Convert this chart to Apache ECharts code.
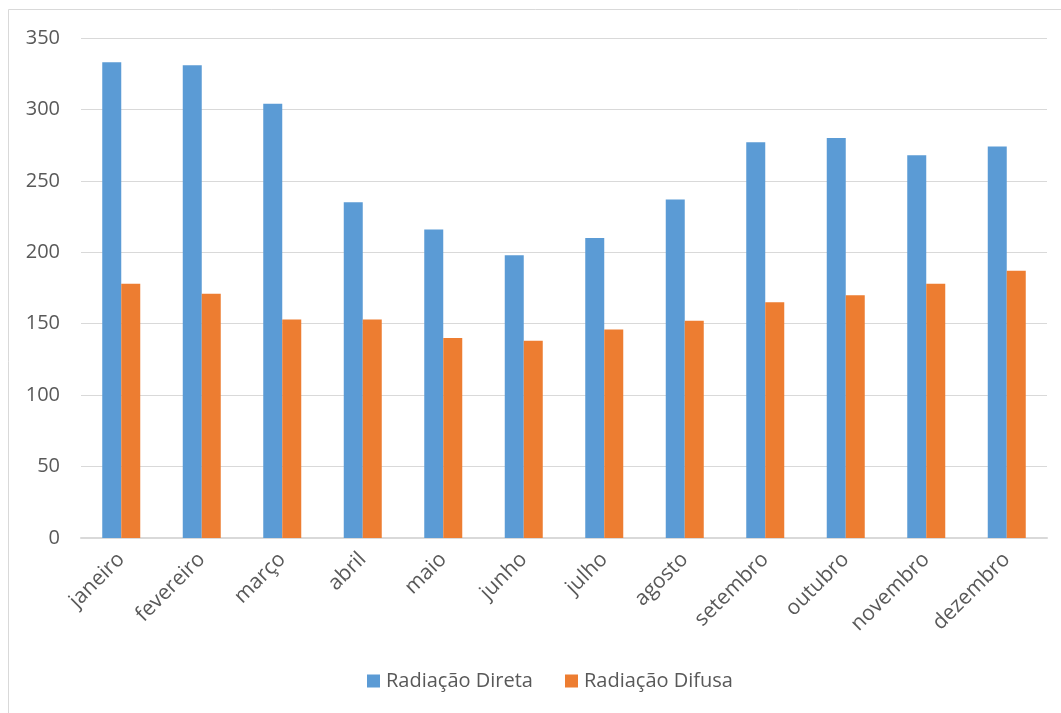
<!DOCTYPE html>
<html>
<head>
<meta charset="utf-8">
<style>
  html, body { margin: 0; padding: 0; background: #fff; }
  #chart { width: 1061px; height: 713px; }
</style>
<script src="https://cdn.jsdelivr.net/npm/echarts@6/dist/echarts.min.js"></script>
</head>
<body>
<div id="chart"></div>
<script>
// Monthly radiation values
const months = ['janeiro', 'fevereiro', 'março', 'abril', 'maio', 'junho',
                'julho', 'agosto', 'setembro', 'outubro', 'novembro', 'dezembro'];
const direta = [333, 331, 304, 235, 216, 198, 210, 237, 277, 280, 268, 274];
const difusa = [178, 171, 153, 153, 140, 138, 146, 152, 165, 170, 178, 187];

const font = '"Open Sans", "Noto Sans", sans-serif';
const textColor = '#595959';

const chart = echarts.init(document.getElementById('chart'), null, { renderer: 'canvas' });
chart.setOption({
  animation: false,
  backgroundColor: '#fff',
  graphic: [{
    type: 'rect',
    shape: { x: 8.5, y: 9.5, width: 1200, height: 900 },
    style: { fill: 'none', stroke: '#d9d9d9', lineWidth: 1 },
    silent: true
  }],
  grid: { left: 81, right: 14, top: 38, bottom: 175, containLabel: false },
  legend: {
    bottom: 17,
    left: 362,
    itemWidth: 13,
    itemHeight: 13,
    itemGap: 32,
    icon: 'rect',
    textStyle: { color: textColor, fontSize: 20, fontFamily: font, padding: [0, 0, 0, 1] },
    data: ['Radiação Direta', 'Radiação Difusa']
  },
  xAxis: {
    type: 'category',
    data: months,
    axisLine: { lineStyle: { color: '#d9d9d9', width: 2 } },
    axisTick: { show: false },
    axisLabel: { rotate: 45, color: textColor, fontSize: 21, fontFamily: font, margin: 18, interval: 0 }
  },
  yAxis: {
    type: 'value',
    min: 0,
    max: 350,
    interval: 50,
    axisLine: { show: false },
    axisTick: { show: false },
    splitLine: { lineStyle: { color: '#d9d9d9', width: 1 } },
    axisLabel: { color: textColor, fontSize: 20, fontFamily: font, margin: 21 }
  },
  series: [
    {
      name: 'Radiação Direta',
      type: 'bar',
      data: direta,
      barWidth: 19,
      barGap: '0%',
      itemStyle: { color: '#5b9bd5' }
    },
    {
      name: 'Radiação Difusa',
      type: 'bar',
      data: difusa,
      barWidth: 19,
      barGap: '0%',
      itemStyle: { color: '#ed7d31' }
    }
  ]
});
</script>
</body>
</html>
